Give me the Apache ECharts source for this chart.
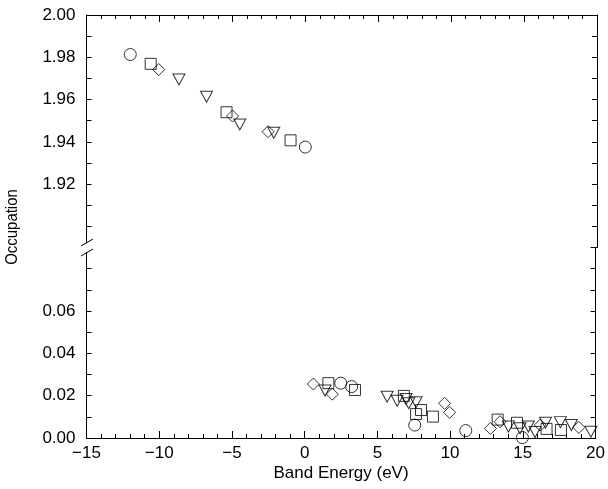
<!DOCTYPE html>
<html>
<head>
<meta charset="utf-8">
<script src="https://cdn.jsdelivr.net/npm/echarts@6/dist/echarts.min.js"></script>
<style>
html,body{margin:0;padding:0;background:#fff;}
#chart{width:608px;height:489px;}
</style>
</head>
<body>
<div id="chart"></div>
<script>
// ---- data (band energy eV, occupation) ----
const circleData = [[-12.0,1.9813],[0.0,1.9375],[2.48,0.0259],[3.23,0.0243],[7.57,0.0061],[11.08,0.0035],[14.97,0.0002]];
const squareData = [[-10.6,1.9769],[-5.4,1.9540],[-1.01,1.9407],[1.63,0.0259],[3.46,0.0227],[6.82,0.0199],[7.66,0.0113],[8.0,0.0132],[8.82,0.0101],[13.27,0.0087],[14.6,0.0072],[16.63,0.0043],[17.62,0.0038]];
const diamondData = [[-10.05,1.9742],[-4.99,1.9522],[-2.55,1.9448],[0.6,0.0255],[1.9,0.0207],[9.62,0.0164],[9.97,0.0121],[12.77,0.0045],[13.44,0.0077],[16.2,0.0061],[18.85,0.0050]];
const triangleData = [[-8.66,1.9695],[-6.77,1.9613],[-4.49,1.9482],[-2.16,1.9443],[1.4,0.0224],[5.67,0.0195],[6.36,0.0176],[6.97,0.0184],[7.16,0.0164],[7.66,0.0169],[14.01,0.0054],[14.81,0.0046],[15.38,0.0054],[15.84,0.0028],[16.56,0.0072],[17.58,0.0075],[18.34,0.0061],[19.68,0.0030]];

const yLabelsTop = [1.92, 1.94, 1.96, 1.98, 2.00];
const yLabelsBottom = [0.00, 0.02, 0.04, 0.06];
const xTickLabels = [-15, -10, -5, 0, 5, 10, 15, 20];

const FONT = 'Liberation Sans, Arial, Helvetica, sans-serif';
const LABEL_SIZE = 17;

function topPart(d){ return d.filter(p => p[1] > 1); }
function bottomPart(d){ return d.filter(p => p[1] < 1); }

const shapes = [
  {data: circleData, symbol: 'circle', size: 12, rotate: 0},
  {data: squareData, symbol: 'rect', size: 11, rotate: 0},
  {data: diamondData, symbol: 'diamond', size: 12, rotate: 0},
  {data: triangleData, symbol: 'triangle', size: [12, 11], rotate: 180}
];

const series = [];
shapes.forEach(s => {
  const base = {
    type: 'scatter', symbol: s.symbol, symbolSize: s.size, symbolRotate: s.rotate,
    clip: false, silent: true,
    itemStyle: {color: 'rgba(0,0,0,0)', borderColor: '#000', borderWidth: 1}
  };
  series.push(Object.assign({}, base, {xAxisIndex: 0, yAxisIndex: 0, data: topPart(s.data)}));
  series.push(Object.assign({}, base, {xAxisIndex: 1, yAxisIndex: 2, data: bottomPart(s.data)}));
});

function labelFmt(list){
  const keys = list.map(v => Math.round(v * 100));
  return function(v){
    return keys.indexOf(Math.round(v * 100)) >= 0 ? v.toFixed(2) : '';
  };
}

const axisLine = {show: true, onZero: false, lineStyle: {color: '#000', width: 1}};
const yTick = {show: true, inside: true, length: 5, lineStyle: {color: '#000', width: 1}};

function xAxis(grid, pos, showLabels){
  return {
    type: 'value', gridIndex: grid, position: pos, min: -15, max: 20, interval: 5,
    axisLine: axisLine,
    axisTick: {show: true, inside: true, length: 7, lineStyle: {color: '#000', width: 1}},
    minorTick: {show: true, splitNumber: 5, length: 4, lineStyle: {color: '#000', width: 1}},
    splitLine: {show: false}, minorSplitLine: {show: false},
    axisLabel: {show: showLabels, color: '#000', fontSize: LABEL_SIZE, fontFamily: FONT, margin: 7,
      formatter: v => (xTickLabels.indexOf(Math.round(v)) >= 0 ? String(Math.round(v)).replace('-', '\u2212') : '')},
    name: showLabels ? 'Band Energy (eV)' : '', nameLocation: 'middle', nameGap: 27,
    nameTextStyle: {color: '#000', fontSize: LABEL_SIZE, fontFamily: FONT}
  };
}

function yAxis(grid, pos, min, max, labels){
  return {
    type: 'value', gridIndex: grid, position: pos, min: min, max: max, interval: 0.01,
    axisLine: axisLine, axisTick: yTick,
    splitLine: {show: false},
    axisLabel: {show: !!labels, color: '#000', fontSize: LABEL_SIZE, fontFamily: FONT, margin: 11,
      formatter: labels ? labelFmt(labels) : ''}
  };
}

const chart = echarts.init(document.getElementById('chart'), null, {renderer: 'canvas'});
chart.setOption({
  animation: false,
  backgroundColor: '#fff',
  grid: [
    {left: 86.5, right: 11, top: 15, height: 232.5},
    {left: 86.5, right: 11, top: 247.5, height: 190.5}
  ],
  xAxis: [xAxis(0, 'top', false), xAxis(1, 'bottom', true)],
  yAxis: [
    yAxis(0, 'left', 1.89, 2.00, yLabelsTop),
    yAxis(0, 'right', 1.89, 2.00, null),
    yAxis(1, 'left', 0, 0.09, yLabelsBottom),
    yAxis(1, 'right', 0, 0.09, null)
  ],
  series: series,
  graphic: [
    {type: 'rect', shape: {x: 82, y: 243, width: 10, height: 9}, style: {fill: '#fff'}, z: 100},
    {type: 'line', shape: {x1: 81, y1: 246, x2: 93, y2: 239}, style: {stroke: '#000', lineWidth: 1}, z: 101},
    {type: 'line', shape: {x1: 81, y1: 256, x2: 93, y2: 249}, style: {stroke: '#000', lineWidth: 1}, z: 101},
    {type: 'text', x: 12, y: 227, rotation: Math.PI / 2, scaleX: 0.88,
      style: {text: 'Occupation', fill: '#000', fontSize: 17, fontFamily: FONT, align: 'center', verticalAlign: 'middle'}, z: 100}
  ]
});
</script>
</body>
</html>
